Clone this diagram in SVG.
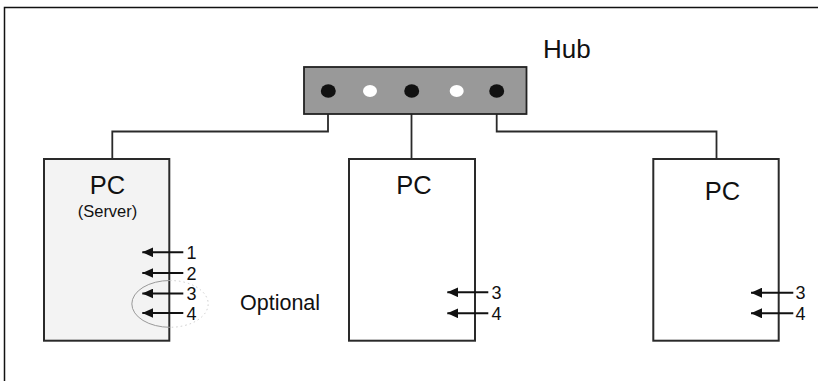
<svg xmlns="http://www.w3.org/2000/svg" width="818" height="381" viewBox="0 0 818 381">
<defs>
<style>
.frame{fill:none;stroke:#111;stroke-width:1.5}
.box{stroke:#2a2a2a;stroke-width:2}
.wire{fill:none;stroke:#2a2a2a;stroke-width:1.8}
.arr{stroke:#111;stroke-width:2;marker-end:url(#ah)}
.t{font-family:"Liberation Sans",Arial,sans-serif;fill:#111}
</style>
<marker id="ah" markerWidth="12" markerHeight="10" refX="11" refY="5" orient="auto" markerUnits="userSpaceOnUse">
<path d="M0,0 L11,5 L0,10 Z" fill="#111"/>
</marker>
</defs>
<rect width="818" height="381" fill="#fff"/>
<path class="frame" d="M4.5,381 V7.5 H818"/>
<g id="connectors">
<path class="wire" d="M328,91 V131.5 H112.3 V159"/>
<path class="wire" d="M411.5,114 V159"/>
<path class="wire" d="M496.7,91 V131.5 H716.5 V159"/>
</g>
<g id="hub">
<rect x="304" y="67" width="222.5" height="47" fill="#999" stroke="#222" stroke-width="1.8"/>
<ellipse cx="328.3" cy="91" rx="7.5" ry="6.8" fill="#111"/>
<ellipse cx="370" cy="91" rx="7" ry="6" fill="#fff"/>
<ellipse cx="411.7" cy="91" rx="7.5" ry="6.8" fill="#111"/>
<ellipse cx="456.7" cy="91" rx="7" ry="6" fill="#fff"/>
<ellipse cx="496.7" cy="91" rx="7.5" ry="6.8" fill="#111"/>
<text class="t" x="543" y="58" font-size="26">Hub</text>
</g>
<g id="pc-server">
<rect class="box" x="44" y="159" width="125.3" height="181.7" fill="#f3f3f3"/>
<text class="t" x="107.5" y="194" font-size="25.5" text-anchor="middle">PC</text>
<text class="t" x="107.5" y="216.5" font-size="16.5" text-anchor="middle">(Server)</text>
<line class="arr" x1="183.3" y1="252.3" x2="142.3" y2="252.3"/>
<line class="arr" x1="183.3" y1="273" x2="142.3" y2="273"/>
<line class="arr" x1="183.3" y1="293.5" x2="142.3" y2="293.5"/>
<line class="arr" x1="183.3" y1="313" x2="142.3" y2="313"/>
<g class="t" font-size="18">
<text x="186.5" y="259">1</text>
<text x="186.5" y="279.5">2</text>
<text x="186.5" y="300">3</text>
<text x="186.5" y="319.5">4</text>
</g>
<path d="M170,280.5 A38,23.3 0 0 0 170,327.3" fill="none" stroke="#999" stroke-width="1"/>
<path d="M170,280.5 A38,23.3 0 0 1 170,327.3" fill="none" stroke="#ccc" stroke-width="1" stroke-dasharray="1.5,3"/>
<text class="t" x="240" y="310" font-size="21.5">Optional</text>
</g>
<g id="pc-middle">
<rect class="box" x="349" y="159" width="126" height="181.7" fill="#fff"/>
<text class="t" x="414" y="194" font-size="25.5" text-anchor="middle">PC</text>
<line class="arr" x1="488.3" y1="292.3" x2="447.3" y2="292.3"/>
<line class="arr" x1="488.3" y1="313.3" x2="447.3" y2="313.3"/>
<g class="t" font-size="18">
<text x="491.5" y="299">3</text>
<text x="491.5" y="320">4</text>
</g>
</g>
<g id="pc-right">
<rect class="box" x="653.3" y="159" width="125.4" height="181.7" fill="#fff"/>
<text class="t" x="722.5" y="200" font-size="25.5" text-anchor="middle">PC</text>
<line class="arr" x1="793.3" y1="292.7" x2="751" y2="292.7"/>
<line class="arr" x1="793.3" y1="313.3" x2="751" y2="313.3"/>
<g class="t" font-size="18">
<text x="795.5" y="299.3">3</text>
<text x="795.5" y="320">4</text>
</g>
</g>
</svg>
